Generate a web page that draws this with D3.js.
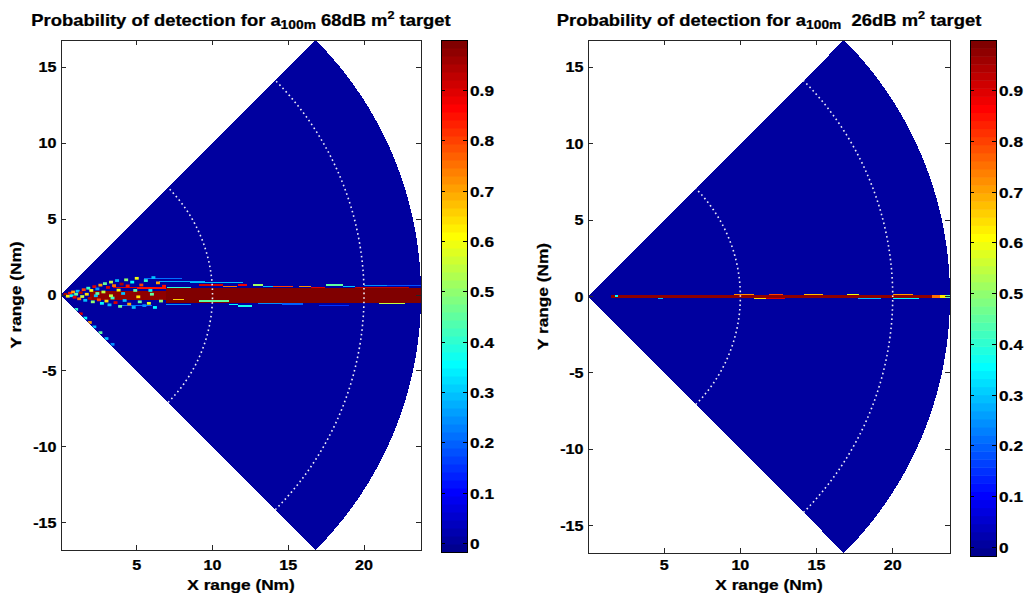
<!DOCTYPE html>
<html>
<head>
<meta charset="utf-8">
<script src="https://cdn.jsdelivr.net/npm/d3@7/dist/d3.min.js"></script>
<style>
  body { margin: 0; background: #fff; }
  text { font-family: "Liberation Sans", Arial, Helvetica, sans-serif; font-weight: bold; fill: #000; stroke: #000; stroke-width: 0.25px; }
</style>
</head>
<body>
<svg id="chart" width="1027" height="596"></svg>
<script>
// ---- data -------------------------------------------------------------
// Radar coverage sector (nautical miles / degrees)
const maxRange = 23.76;
const sectorHalfAngle = 45;
const rangeRings = [10, 20];

// Axis ticks
const xTicks = [5, 10, 15, 20];
const yTicks = [-15, -10, -5, 0, 5, 10, 15];
const pdTicks = [0, 0.1, 0.2, 0.3, 0.4, 0.5, 0.6, 0.7, 0.8, 0.9];
const pdTickLabels = ["0", "0.1", "0.2", "0.3", "0.4", "0.5", "0.6", "0.7", "0.8", "0.9"];
const pdLimits = [-0.017, 1.0];

// Titles: [text, role]
const leftTitle = [["Probability of detection for a", ""], ["100m", "sub"], [" 68dB m", ""], ["2", "sup"], [" target", ""]];
const rightTitle = [["Probability of detection for a", ""], ["100m", "sub"], ["  26dB m", ""], ["2", "sup"], [" target", ""]];
const xLabel = "X range (Nm)";
const yLabel = "Y range (Nm)";

// 68 dB target: detection cells [x0, x1, y0, y1, Pd] (Nm)
const leftBands = [
  [1.9, 6.9, -0.30, 0.24, 0.97],
  [6.9, 23.76, -0.55, 0.45, 0.99],
  [3.4, 5.0, 0.48, 0.56, 0.90],
  [5.0, 6.9, 0.42, 0.50, 0.85],
  [5.5, 8.0, 1.05, 1.10, 0.22],
  [6.5, 9.5, 0.88, 0.93, 0.28],
  [7.0, 8.6, 0.45, 0.55, 0.40],
  [8.0, 10.5, 0.96, 1.00, 0.20],
  [8.5, 12.0, 0.80, 0.85, 0.30],
  [9.1, 10.7, 0.62, 0.72, 0.92],
  [10.7, 11.6, 0.50, 0.60, 0.75],
  [11.7, 12.3, 0.62, 0.71, 0.88],
  [12.7, 13.3, 0.62, 0.71, 0.52],
  [13.3, 14.0, 0.50, 0.58, 0.30],
  [14.0, 15.3, 0.50, 0.60, 0.80],
  [15.7, 16.5, 0.50, 0.60, 0.72],
  [16.5, 17.4, 0.45, 0.55, 0.90],
  [17.5, 18.6, 0.60, 0.70, 0.45],
  [18.6, 19.4, 0.52, 0.60, 0.30],
  [19.4, 23.0, 0.45, 0.55, 0.93],
  [20.0, 21.5, 0.58, 0.64, 0.25],
  [21.5, 23.76, 0.62, 0.68, 0.18],
  [6.9, 8.6, -0.66, -0.58, 0.25],
  [7.4, 8.1, -0.36, -0.24, 0.66],
  [9.1, 11.1, -0.46, -0.36, 0.45],
  [11.1, 11.7, -0.66, -0.58, 0.35],
  [11.7, 12.6, -0.76, -0.64, 0.38],
  [13.0, 14.6, -0.58, -0.50, 0.25],
  [14.6, 16.0, -0.64, -0.56, 0.20],
  [17.0, 19.0, -0.70, -0.63, 0.15],
  [21.0, 22.7, -0.62, -0.50, 0.55],
  [4.0, 6.0, -0.75, -0.68, 0.22]
];

// 68 dB target: isolated short-range hits [x, y, Pd] (Nm)
const leftSpots = [
  [0.3, 0.04, 0.95], [0.45, -0.08, 0.62], [0.6, 0.12, 0.85], [0.7, -0.05, 0.35], [0.8, 0.20, 0.70],
  [0.9, -0.15, 0.90], [1.0, 0.05, 0.45], [1.1, 0.25, 0.30], [1.2, -0.25, 0.75], [1.3, 0.15, 0.95],
  [1.4, -0.10, 0.55], [1.5, 0.35, 0.80], [1.6, -0.35, 0.30], [1.7, 0.05, 0.65], [1.8, 0.45, 0.40],
  [1.9, -0.22, 0.95], [2.0, 0.30, 0.60], [2.1, -0.45, 0.50], [2.2, 0.55, 0.90], [2.3, -0.05, 0.30],
  [2.4, 0.40, 0.25], [2.5, -0.32, 0.80], [2.6, 0.65, 0.70], [2.7, -0.55, 0.35], [2.8, 0.20, 0.55],
  [2.9, 0.75, 0.45], [3.0, -0.40, 0.65], [3.1, 0.50, 0.90], [3.2, -0.65, 0.30], [3.3, 0.85, 0.55],
  [3.4, -0.20, 0.40], [3.5, 0.62, 0.75], [3.6, -0.50, 0.90], [3.7, 0.95, 0.30], [3.8, 0.32, 0.60],
  [3.9, -0.75, 0.45], [4.0, 0.72, 0.95], [4.2, -0.36, 0.30], [4.3, 1.00, 0.50], [4.4, 0.60, 0.85],
  [4.5, -0.60, 0.70], [4.7, 0.85, 0.35], [4.8, -0.82, 0.30], [4.9, 0.30, 0.45], [5.0, 1.10, 0.60],
  [5.2, -0.45, 0.45], [5.3, 0.66, 0.80], [5.5, -0.70, 0.25], [5.6, 0.95, 0.40], [5.8, -0.55, 0.60],
  [5.9, 0.30, 0.35], [6.1, 1.15, 0.30], [6.2, -0.82, 0.35], [6.4, 0.80, 0.70], [6.6, -0.40, 0.50],
  [6.8, 0.58, 0.85], [2.4, 0.10, 0.45], [3.3, -0.05, 0.55], [4.1, 0.10, 0.30], [5.1, -0.12, 0.65],
  [6.0, 0.05, 0.45], [1.0, -0.95, 0.40], [1.3, -1.24, 0.90], [1.6, -1.52, 0.35], [1.9, -1.81, 0.70],
  [2.2, -2.10, 0.30], [2.6, -2.48, 0.45], [3.0, -2.87, 0.30], [3.4, -3.25, 0.25]
];

// 26 dB target: detection cells [x0, x1, y0, y1, Pd] (Nm)
const rightBands = [
  [1.5, 22.6, -0.07, 0.10, 0.97],
  [1.8, 2.0, -0.04, 0.08, 0.35],
  [4.6, 4.9, -0.15, -0.07, 0.30],
  [9.6, 10.9, 0.10, 0.18, 0.72],
  [11.9, 12.8, 0.10, 0.18, 0.80],
  [14.2, 15.4, 0.10, 0.18, 0.68],
  [17.0, 17.8, 0.10, 0.16, 0.60],
  [20.0, 21.3, 0.10, 0.18, 0.70],
  [10.9, 11.7, -0.16, -0.07, 0.65],
  [11.7, 12.9, -0.15, -0.07, 0.90],
  [17.7, 19.2, -0.14, -0.07, 0.30],
  [20.0, 21.7, -0.15, -0.07, 0.35],
  [21.7, 23.0, -0.13, -0.07, 0.55],
  [22.6, 23.1, -0.07, 0.12, 0.75],
  [23.1, 23.5, -0.07, 0.12, 0.62],
  [23.5, 23.76, -0.07, 0.12, 0.45]
];

// ---- layout -----------------------------------------------------------
const SX = 1.15; // horizontal text stretch
const panels = [
  { plot: { l: 61, r: 421, t: 40, b: 550 }, cbar: { l: 441, r: 467, t: 40, b: 552 },
    title: leftTitle, bands: leftBands, spots: leftSpots, yLabelX: 20.5, yTickX: 56.5 },
  { plot: { l: 588, r: 950, t: 40, b: 553 }, cbar: { l: 970, r: 996, t: 40, b: 556 },
    title: rightTitle, bands: rightBands, spots: [], yLabelX: 547.5, yTickX: 583.5 }
];

// MATLAB-style jet colormap, 64 levels
function jetMap(m) {
  const n = Math.ceil(m / 4);
  const u = [];
  for (let i = 1; i <= n; i++) u.push(i / n);
  for (let i = 0; i < n - 1; i++) u.push(1);
  for (let i = n; i >= 1; i--) u.push(i / n);
  const g0 = Math.ceil(n / 2) - (m % 4 === 1 ? 1 : 0);
  const J = Array.from({ length: m }, () => [0, 0, 0]);
  const gIdx = [], rIdx = [], bIdx = [];
  for (let i = 1; i <= u.length; i++) {
    const g = g0 + i;
    if (g <= m) gIdx.push(g);
    if (g + n <= m) rIdx.push(g + n);
    if (g - n >= 1) bIdx.push(g - n);
  }
  rIdx.forEach((k, i) => { J[k - 1][0] = u[i]; });
  gIdx.forEach((k, i) => { J[k - 1][1] = u[i]; });
  bIdx.forEach((k, i) => { J[k - 1][2] = u[u.length - bIdx.length + i]; });
  return J.map(c => d3.rgb(c[0] * 255, c[1] * 255, c[2] * 255).formatHex());
}
const jet = jetMap(64);
const pdIndex = d3.scaleQuantize().domain(pdLimits).range(d3.range(64));
const pdColor = v => jet[pdIndex(Math.max(pdLimits[0], Math.min(pdLimits[1] - 1e-9, v)))];

const svg = d3.select("#chart");

function stretchedText(parent, x, y, str, size, anchor, rotate) {
  const g = parent.append("g")
    .attr("transform", `translate(${x},${y})` + (rotate ? ` rotate(${rotate})` : "") + ` scale(${SX},1)`);
  return g.append("text")
    .attr("text-anchor", anchor)
    .attr("font-size", size)
    .text(str);
}

panels.forEach((p, pi) => {
  const P = p.plot;
  const x = d3.scaleLinear().domain([0, maxRange]).range([P.l, P.r]);
  const yMax = maxRange * Math.sin(sectorHalfAngle * Math.PI / 180);
  const y = d3.scaleLinear().domain([-yMax, yMax]).range([P.b, P.t]);
  const g = svg.append("g");

  // sector outline through the scales
  const angles = d3.range(-sectorHalfAngle, sectorHalfAngle + 0.001, 0.25);
  const rad = a => a * Math.PI / 180;
  const sectorPts = [[0, 0]].concat(angles.map(a => [maxRange * Math.cos(rad(a)), maxRange * Math.sin(rad(a))]));
  const line = d3.line().x(d => x(d[0])).y(d => y(d[1]));

  const clipId = "sector" + pi;
  svg.append("defs").append("clipPath").attr("id", clipId)
    .append("path").attr("d", line(sectorPts) + "Z");

  g.append("path").attr("d", line(sectorPts) + "Z")
    .attr("fill", pdColor(0)).attr("shape-rendering", "crispEdges");

  const cells = g.append("g").attr("clip-path", `url(#${clipId})`);
  cells.selectAll("rect.band").data(p.bands).join("rect")
    .attr("class", "band")
    .attr("x", d => x(d[0]))
    .attr("width", d => x(d[1]) - x(d[0]))
    .attr("y", d => y(d[3]))
    .attr("height", d => y(d[2]) - y(d[3]))
    .attr("fill", d => pdColor(d[4]))
    .attr("shape-rendering", "crispEdges");

  // short-range hit cells
  const spotW = 0.26, spotH = 0.18;
  cells.selectAll("rect.spot").data(p.spots).join("rect")
    .attr("class", "spot")
    .attr("x", d => x(d[0] - spotW / 2))
    .attr("width", x(spotW) - x(0))
    .attr("y", d => y(d[1] + spotH / 2))
    .attr("height", y(0) - y(spotH))
    .attr("fill", d => pdColor(d[2]));

  // dotted range rings
  rangeRings.forEach(rr => {
    const ring = angles.map(a => [rr * Math.cos(rad(a)), rr * Math.sin(rad(a))]);
    g.append("path").attr("d", line(ring))
      .attr("fill", "none").attr("stroke", "#eeeef8")
      .attr("stroke-width", 1.6).attr("stroke-dasharray", "1.6 3");
  });

  // axes box and ticks
  const tl = 5;
  const ax = g.append("g").attr("stroke", "#262626").attr("stroke-width", 1).attr("shape-rendering", "crispEdges");
  ax.append("rect").attr("x", P.l).attr("y", P.t).attr("width", P.r - P.l).attr("height", P.b - P.t).attr("fill", "none");
  xTicks.forEach(t => {
    ax.append("line").attr("x1", x(t)).attr("x2", x(t)).attr("y1", P.b).attr("y2", P.b - tl);
    ax.append("line").attr("x1", x(t)).attr("x2", x(t)).attr("y1", P.t).attr("y2", P.t + tl);
  });
  yTicks.forEach(t => {
    ax.append("line").attr("x1", P.l).attr("x2", P.l + tl).attr("y1", y(t)).attr("y2", y(t));
    ax.append("line").attr("x1", P.r).attr("x2", P.r - tl).attr("y1", y(t)).attr("y2", y(t));
  });

  xTicks.forEach(t => stretchedText(g, x(t), 569.5, String(t), 14, "middle"));
  yTicks.forEach(t => stretchedText(g, p.yTickX, y(t) + 5, String(t), 14, "end"));

  stretchedText(g, (P.l + P.r) / 2, 589.5, xLabel, 15, "middle");
  stretchedText(g, p.yLabelX, (P.t + P.b) / 2, yLabel, 15, "middle", -90);

  // title with sub/superscripts
  const tg = g.append("g").attr("transform", `translate(${(P.l + P.r) / 2},26) scale(${SX},1)`);
  const tt = tg.append("text").attr("text-anchor", "middle").attr("font-size", 16);
  let shift = 0;
  p.title.forEach(([s, role]) => {
    const ts = tt.append("tspan").text(s).style("white-space", "pre");
    const target = role === "sub" ? 3 : role === "sup" ? -7 : 0;
    if (role === "sub") ts.attr("font-size", 12);
    else if (role === "sup") ts.attr("font-size", 11);
    ts.attr("dy", target - shift);
    shift = target;
  });

  // colorbar
  const C = p.cbar;
  const cy = d3.scaleLinear().domain(pdLimits).range([C.b, C.t]);
  const step = (pdLimits[1] - pdLimits[0]) / 64;
  const cb = g.append("g");
  cb.selectAll("rect").data(d3.range(64)).join("rect")
    .attr("x", C.l).attr("width", C.r - C.l)
    .attr("y", k => cy(pdLimits[0] + (k + 1) * step))
    .attr("height", k => cy(pdLimits[0] + k * step) - cy(pdLimits[0] + (k + 1) * step) + 0.5)
    .attr("fill", k => jet[k]);
  const cax = g.append("g").attr("stroke", "#000").attr("shape-rendering", "crispEdges");
  cax.append("rect").attr("x", C.l).attr("y", C.t).attr("width", C.r - C.l).attr("height", C.b - C.t).attr("fill", "none");
  pdTicks.forEach((t, i) => {
    cax.append("line").attr("x1", C.l).attr("x2", C.l + 4).attr("y1", cy(t)).attr("y2", cy(t));
    cax.append("line").attr("x1", C.r).attr("x2", C.r - 4).attr("y1", cy(t)).attr("y2", cy(t));
    stretchedText(g, C.r + 3, cy(t) + 5.5, pdTickLabels[i], 15, "start");
  });
});
</script>
</body>
</html>
